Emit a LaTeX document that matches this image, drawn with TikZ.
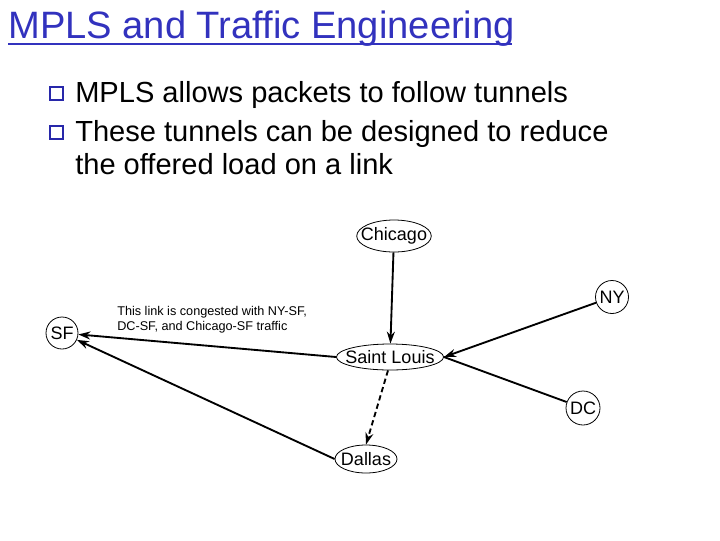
\documentclass[tikz,border=0pt]{standalone}
\usepackage{fontspec}
\setmainfont{Liberation Sans}
\usetikzlibrary{shapes.geometric,arrows.meta}
\definecolor{titleblue}{RGB}{50,50,190}
\definecolor{bulletblue}{RGB}{40,40,170}
\begin{document}
\begin{tikzpicture}[x=0.75pt,y=-0.75pt,
  city/.style={draw=black,line width=0.6pt,ellipse,inner xsep=-5pt,inner ysep=0pt,font=\fontsize{13.5}{15}\selectfont},
  town/.style={draw=black,line width=0.6pt,circle,inner sep=0pt,minimum size=24pt,font=\fontsize{13.5}{15}\selectfont},
  link/.style={line width=1.4pt,black},
  arr/.style={link,-{Stealth[length=9pt,width=6pt]}},
  bul/.style={draw=bulletblue,line width=0.9pt,fill=white},
  bodytext/.style={anchor=base west,inner sep=0pt,font=\fontsize{21.8}{26}\selectfont}
]
\useasboundingbox[fill=white] (0,0) rectangle (720,540);
% title
\node[anchor=base west,inner sep=0pt,text=titleblue,font=\fontsize{28.6}{32}\selectfont] (title) at (8,38) {MPLS and Traffic Engineering};
\coordinate (ul1) at (8,44);
\coordinate (ul2) at (512,44);
\draw[titleblue,line width=1.6pt] (ul1) -- (ul2);
% bullets
\draw[bul] (50,87) rectangle (63,100);
\draw[bulletblue,line width=1.4pt] (51,100.5) -- (63.5,100.5) -- (63.5,88);
\draw[bul] (50,126) rectangle (63,139);
\draw[bulletblue,line width=1.4pt] (51,139.5) -- (63.5,139.5) -- (63.5,127);
\node[bodytext] (b1) at (75,102) {MPLS allows packets to follow tunnels};
\node[bodytext] (b2) at (75,141) {These tunnels can be designed to reduce};
\node[bodytext] (b3) at (75,174) {the offered load on a link};
% nodes
\node[city,minimum width=48.75pt,minimum height=24pt] (chi) at (394,236) {Chicago};
\node[city,minimum width=76.5pt,minimum height=19.5pt] (stl) at (390,357) {Saint Louis};
\node[city,minimum width=46.5pt,minimum height=21pt] (dal) at (366,459) {Dallas};
\node[town,minimum size=24.75pt] (ny) at (612,297) {NY};
\node[town,minimum size=25.5pt] (dc) at (583,408) {DC};
\node[town,minimum size=24pt] (sf) at (62,333) {SF};
% label
\node[anchor=base west,inner sep=0pt,font=\fontsize{9.5}{11}\selectfont] (lbl) at (117,315) {This link is congested with NY-SF,};
\node[anchor=base west,inner sep=0pt,font=\fontsize{9.5}{11}\selectfont] (lbl2) at (117,330) {DC-SF, and Chicago-SF traffic};
% links
\draw[arr] (chi) -- (stl);
\draw[arr] (ny) -- (stl.east);
\draw[link] (dc) -- (stl.east);
\draw[arr] (stl.west) -- (sf);
\draw[arr] (dal.west) -- (sf);
\draw[arr,dash pattern=on 4pt off 2.5pt] (stl.south) ++(-2,0) coordinate (stls) (stls) -- (dal.north);
\end{tikzpicture}
\end{document}
